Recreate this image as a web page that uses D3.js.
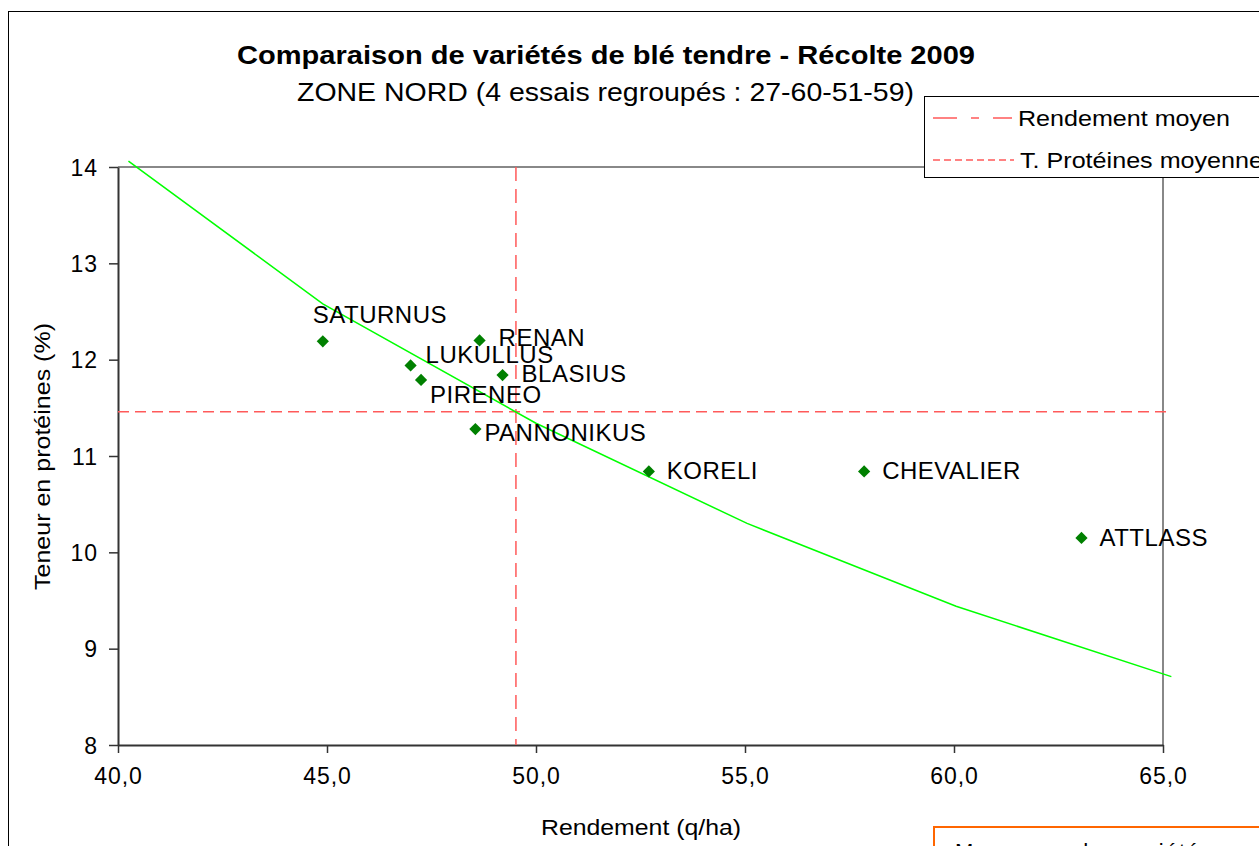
<!DOCTYPE html>
<html>
<head>
<meta charset="utf-8">
<script src="https://cdn.jsdelivr.net/npm/d3@7"></script>
<style>
  body { margin: 0; background: #fff; }
  svg { font-family: "Liberation Sans", Arial, sans-serif; }
</style>
</head>
<body>
<div id="chart-area"></div>
<script>
// varieties and their values (rendement q/ha, proteines %)
var varieties = ["SATURNUS", "RENAN", "LUKULLUS", "PIRENEO", "BLASIUS", "PANNONIKUS", "KORELI", "CHEVALIER", "ATTLASS"];
var rendement = [44.9, 48.65, 47.0, 47.25, 49.2, 48.55, 52.7, 57.85, 63.05];
var proteines = [12.19, 12.2, 11.94, 11.79, 11.84, 11.28, 10.84, 10.84, 10.15];

// reference curve
var curveX = [40.25, 44.9, 50.0, 55.05, 60.05, 65.2];
var curveY = [14.06, 12.58, 11.34, 10.3, 9.44, 8.71];

var rendementMoyen = 49.52;
var proteinesMoyenne = 11.46;

var xTicks = [40, 45, 50, 55, 60, 65];
var yTicks = [8, 9, 10, 11, 12, 13, 14];

// label placement per variety (dx, dy from marker)
var labelOffset = {
    SATURNUS: [-10, -18],
    LUKULLUS: [15, -2],
    PIRENEO: [9, 23],
    RENAN: [19, 6],
    BLASIUS: [19, 7],
    PANNONIKUS: [9, 12]
};

var margin = {left: 118, top: 167};
var width = 1163 - 118,
    height = 745 - 167;

var svg = d3.select("#chart-area")
    .append("svg")
        .attr("width", 1259)
        .attr("height", 846);

// outer frame
svg.append("rect")
    .attr("x", 8.5).attr("y", 11.5)
    .attr("width", 1300).attr("height", 900)
    .attr("fill", "none")
    .attr("stroke", "#000")
    .attr("stroke-width", 1);

var g = svg.append("g")
    .attr("transform", "translate(" + margin.left + ", " + margin.top + ")");

var x = d3.scaleLinear()
    .domain([40, 65])
    .range([0, width]);

var y = d3.scaleLinear()
    .domain([8, 14])
    .range([height, 0]);

// plot frame (top and right)
g.append("line")
    .attr("x1", 0).attr("x2", width).attr("y1", 0).attr("y2", 0)
    .attr("stroke", "#888").attr("stroke-width", 2);
g.append("line")
    .attr("x1", width).attr("x2", width).attr("y1", 0).attr("y2", height)
    .attr("stroke", "#888").attr("stroke-width", 2);

var xAxisCall = d3.axisBottom(x)
    .tickValues(xTicks)
    .tickSize(8)
    .tickSizeOuter(0)
    .tickFormat(function(d){ return d3.format(".1f")(d).replace(".", ","); });
var xAxis = g.append("g")
    .attr("class", "x axis")
    .attr("transform", "translate(0, " + height + ")")
    .call(xAxisCall);

var yAxisCall = d3.axisLeft(y)
    .tickValues(yTicks)
    .tickSize(9)
    .tickSizeOuter(0)
    .tickFormat(d3.format("d"));
var yAxis = g.append("g")
    .attr("class", "y axis")
    .call(yAxisCall);

g.selectAll(".axis path").attr("stroke", "#333").attr("stroke-width", 2);
g.selectAll(".axis line").attr("stroke", "#333").attr("stroke-width", 1.5);
g.selectAll(".axis text")
    .attr("font-size", "23px")
    .attr("letter-spacing", "1px")
    .attr("fill", "#000")
    .attr("font-family", "Liberation Sans, Arial, sans-serif");
xAxis.selectAll("text").attr("dy", "1.2em");
yAxis.selectAll("text").attr("x", -20).attr("dy", "0.36em");

// mean lines
g.append("line")
    .attr("x1", x(rendementMoyen)).attr("x2", x(rendementMoyen))
    .attr("y1", y(14)).attr("y2", y(8))
    .attr("stroke", "#ff5a5a").attr("stroke-width", 1.5)
    .attr("stroke-dasharray", "14,8");
g.append("line")
    .attr("x1", x(40)).attr("x2", x(65.2))
    .attr("y1", y(proteinesMoyenne)).attr("y2", y(proteinesMoyenne))
    .attr("stroke", "#ff5a5a").attr("stroke-width", 1.5)
    .attr("stroke-dasharray", "11,6");

// green curve
var line = d3.line()
    .x(function(d){ return x(d[0]); })
    .y(function(d){ return y(d[1]); });
g.append("path")
    .datum(curveX.map(function(v, i){ return [v, curveY[i]]; }))
    .attr("d", line)
    .attr("fill", "none")
    .attr("stroke", "#00ff00")
    .attr("stroke-width", 1.5);

var points = varieties.map(function(name, i){
    return {name: name, x: rendement[i], y: proteines[i]};
});

var diamond = d3.symbol().type(d3.symbolDiamond2).size(95);
g.selectAll("path.pt").data(points).enter()
    .append("path")
    .attr("class", "pt")
    .attr("d", diamond)
    .attr("transform", function(d){ return "translate(" + x(d.x) + "," + y(d.y) + ")"; })
    .attr("fill", "#008000");

g.selectAll("text.lbl").data(points).enter()
    .append("text")
    .attr("class", "lbl")
    .attr("x", function(d){ return x(d.x) + (labelOffset[d.name] ? labelOffset[d.name][0] : 18); })
    .attr("y", function(d){ return y(d.y) + (labelOffset[d.name] ? labelOffset[d.name][1] : 8); })
    .attr("font-size", "24px")
    .attr("letter-spacing", "0.5px")
    .text(function(d){ return d.name; });

// titles
svg.append("text")
    .attr("x", 237).attr("y", 64)
    .attr("font-size", "26px")
    .attr("font-weight", "bold")
    .attr("textLength", 738)
    .attr("lengthAdjust", "spacingAndGlyphs")
    .text("Comparaison de variétés de blé tendre - Récolte 2009");
svg.append("text")
    .attr("x", 297).attr("y", 101)
    .attr("font-size", "25px")
    .attr("textLength", 617)
    .attr("lengthAdjust", "spacingAndGlyphs")
    .text("ZONE NORD (4 essais regroupés : 27-60-51-59)");

// axis labels
svg.append("text")
    .attr("x", 541).attr("y", 835)
    .attr("font-size", "22px")
    .attr("textLength", 200)
    .attr("lengthAdjust", "spacingAndGlyphs")
    .text("Rendement (q/ha)");
svg.append("text")
    .attr("transform", "translate(50, 590) rotate(-90)")
    .attr("font-size", "22px")
    .attr("textLength", 267)
    .attr("lengthAdjust", "spacingAndGlyphs")
    .text("Teneur en protéines (%)");

// legend
var legend = svg.append("g");
legend.append("rect")
    .attr("x", 924.5).attr("y", 96.5)
    .attr("width", 400).attr("height", 81)
    .attr("fill", "#fff")
    .attr("stroke", "#000")
    .attr("stroke-width", 1);
legend.append("line")
    .attr("x1", 933).attr("x2", 1012).attr("y1", 118).attr("y2", 118)
    .attr("stroke", "#ff5a5a").attr("stroke-width", 1.5)
    .attr("stroke-dasharray", "24,14,8,14");
legend.append("text")
    .attr("x", 1018).attr("y", 126)
    .attr("font-size", "22px")
    .attr("textLength", 212)
    .attr("lengthAdjust", "spacingAndGlyphs")
    .text("Rendement moyen");
legend.append("line")
    .attr("x1", 933).attr("x2", 1014).attr("y1", 160).attr("y2", 160)
    .attr("stroke", "#ff5a5a").attr("stroke-width", 1.5)
    .attr("stroke-dasharray", "7,4");
legend.append("text")
    .attr("x", 1020).attr("y", 168)
    .attr("font-size", "22px")
    .attr("textLength", 243)
    .attr("lengthAdjust", "spacingAndGlyphs")
    .text("T. Protéines moyenne");

// orange box at bottom
svg.append("rect")
    .attr("x", 934).attr("y", 827)
    .attr("width", 400).attr("height", 80)
    .attr("fill", "#fff")
    .attr("stroke", "#ff6600")
    .attr("stroke-width", 2);
svg.append("text")
    .attr("x", 955).attr("y", 859)
    .attr("font-size", "22px")
    .attr("letter-spacing", "1.5px")
    .text("Moyennes des variétés communes");
</script>
</body>
</html>
